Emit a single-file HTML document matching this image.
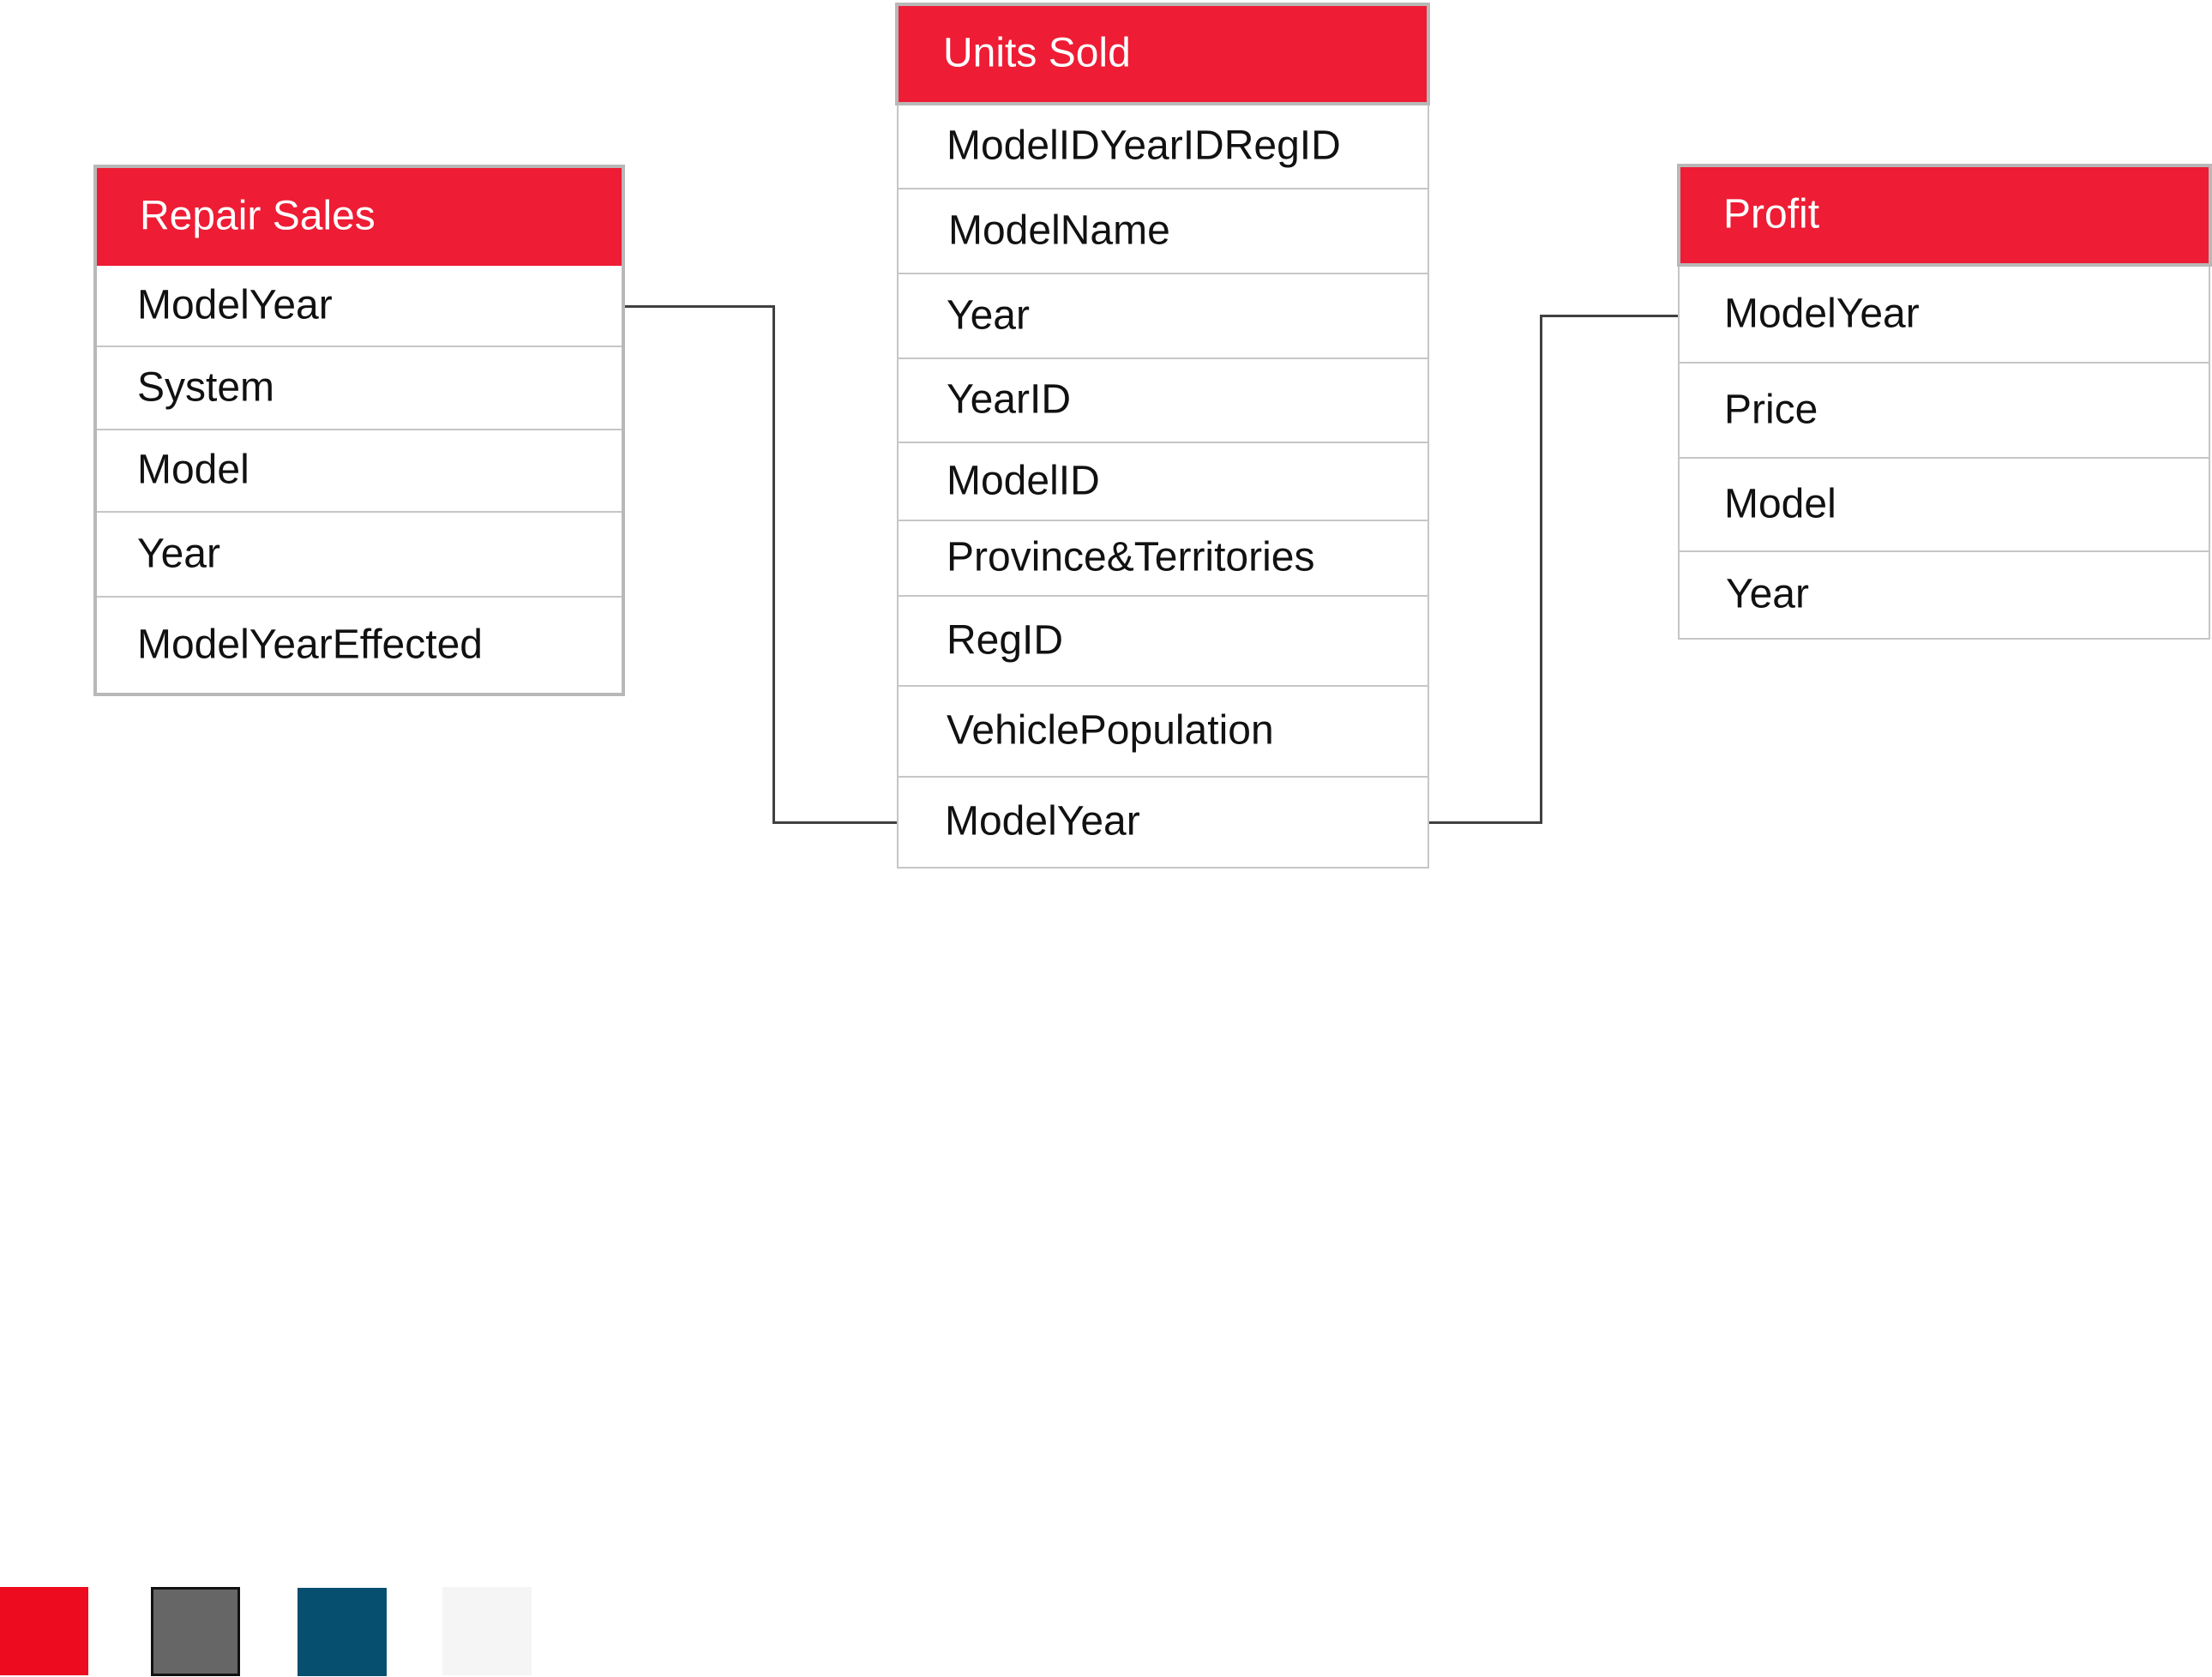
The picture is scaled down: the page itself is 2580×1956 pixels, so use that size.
<!DOCTYPE html>
<html><head><meta charset="utf-8"><style>
html,body{margin:0;padding:0;background:#fff;}
body{width:2580px;height:1956px;position:relative;overflow:hidden;font-family:"Liberation Sans",sans-serif;}
.box{position:absolute;background:#fff;box-sizing:border-box;}
.hd{position:absolute;background:#ee1c34;box-sizing:border-box;border:4px solid #b8b8b8;color:#fff;font-size:48px;}
.hd span,.row span{position:absolute;top:50%;transform:translateY(-52%);white-space:nowrap;}
.row{position:absolute;box-sizing:border-box;border-bottom:2px solid #c6c6c6;font-size:48px;color:#111;}
.ln{position:absolute;background:#404040;}
</style></head><body>

<!-- Repair Sales -->
<div class="box" style="left:109px;top:192px;width:620px;height:620px;border:4px solid #b8b8b8;"></div>
<div class="hd" style="left:109px;top:192px;width:620px;height:118px;border-bottom:none;"><span style="left:50px">Repair Sales</span></div>
<div class="row" style="left:113px;top:310px;width:612px;height:95px;"><span style="left:47px">ModelYear</span></div>
<div class="row" style="left:113px;top:405px;width:612px;height:97px;"><span style="left:47px">System</span></div>
<div class="row" style="left:113px;top:502px;width:612px;height:96px;"><span style="left:47px">Model</span></div>
<div class="row" style="left:113px;top:598px;width:612px;height:99px;"><span style="left:47px">Year</span></div>
<div class="row" style="left:113px;top:697px;width:612px;height:111px;border:none;"><span style="left:47px">ModelYearEffected</span></div>

<!-- Units Sold -->
<div class="box" style="left:1046px;top:3px;width:621px;height:1010px;border:2px solid #c6c6c6;"></div>
<div class="hd" style="left:1044px;top:3px;width:624px;height:120px;"><span style="left:52px">Units Sold</span></div>
<div class="row" style="left:1048px;top:123px;width:617px;height:98px;"><span style="left:56px">ModelIDYearIDRegID</span></div>
<div class="row" style="left:1048px;top:221px;width:617px;height:99px;"><span style="left:58px">ModelName</span></div>
<div class="row" style="left:1048px;top:320px;width:617px;height:99px;"><span style="left:56px">Year</span></div>
<div class="row" style="left:1048px;top:419px;width:617px;height:98px;"><span style="left:56px">YearID</span></div>
<div class="row" style="left:1048px;top:517px;width:617px;height:91px;"><span style="left:56px">ModelID</span></div>
<div class="row" style="left:1048px;top:608px;width:617px;height:88px;"><span style="left:56px">Province&amp;Territories</span></div>
<div class="row" style="left:1048px;top:696px;width:617px;height:105px;"><span style="left:56px">RegID</span></div>
<div class="row" style="left:1048px;top:801px;width:617px;height:106px;"><span style="left:56px">VehiclePopulation</span></div>
<div class="row" style="left:1048px;top:907px;width:617px;height:104px;border:none;"><span style="left:54px">ModelYear</span></div>

<!-- Profit -->
<div class="box" style="left:1957px;top:191px;width:621px;height:555px;border:2px solid #c6c6c6;"></div>
<div class="hd" style="left:1956px;top:191px;width:624px;height:120px;"><span style="left:50px">Profit</span></div>
<div class="row" style="left:1959px;top:311px;width:617px;height:113px;"><span style="left:52px">ModelYear</span></div>
<div class="row" style="left:1959px;top:424px;width:617px;height:111px;"><span style="left:52px">Price</span></div>
<div class="row" style="left:1959px;top:535px;width:617px;height:109px;"><span style="left:52px">Model</span></div>
<div class="row" style="left:1959px;top:644px;width:617px;height:100px;border:none;"><span style="left:54px">Year</span></div>

<!-- connectors -->
<div class="ln" style="left:729px;top:356px;width:175px;height:3px;"></div>
<div class="ln" style="left:901px;top:356px;width:3px;height:605px;"></div>
<div class="ln" style="left:901px;top:958px;width:145px;height:3px;"></div>

<div class="ln" style="left:1667px;top:958px;width:132px;height:3px;"></div>
<div class="ln" style="left:1796px;top:367px;width:3px;height:594px;"></div>
<div class="ln" style="left:1796px;top:367px;width:161px;height:3px;"></div>

<!-- swatches -->
<div style="position:absolute;left:0;top:1851px;width:103px;height:103px;background:#ec0b1f;"></div>
<div style="position:absolute;left:176px;top:1851px;width:104px;height:104px;background:#666;box-sizing:border-box;border:3px solid #111;"></div>
<div style="position:absolute;left:347px;top:1852px;width:104px;height:103px;background:#064f6e;"></div>
<div style="position:absolute;left:516px;top:1851px;width:104px;height:103px;background:#f5f5f5;"></div>
</body></html>
